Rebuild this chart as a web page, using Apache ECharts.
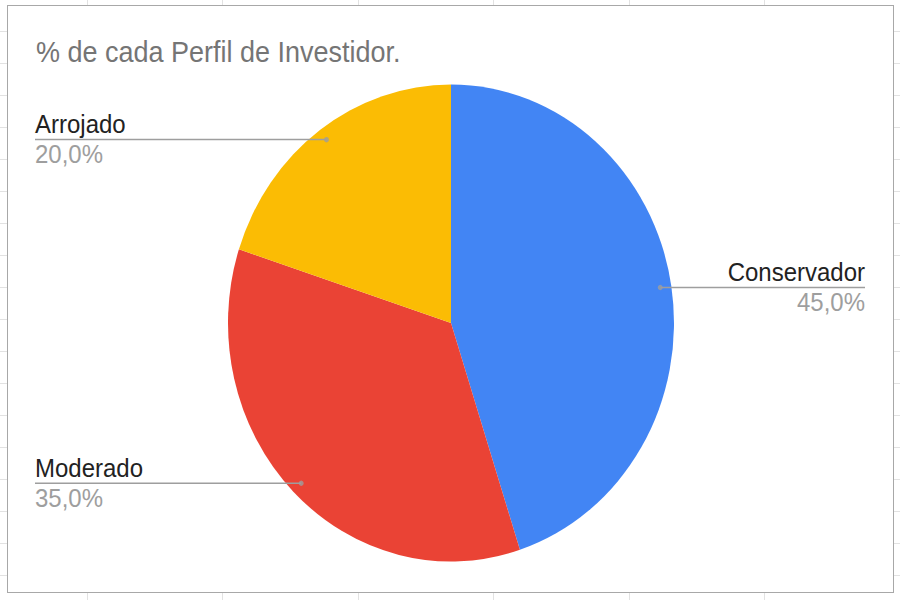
<!DOCTYPE html>
<html>
<head>
<meta charset="utf-8">
<script src="https://cdn.jsdelivr.net/npm/echarts@6/dist/echarts.min.js"></script>
<style>
  html, body {
    margin: 0;
    width: 900px;
    height: 600px;
    overflow: hidden;
    background-color: #fff;
    background-image:
      repeating-linear-gradient(to right, transparent 0, transparent 87px, #e2e2e2 87px, #e2e2e2 88px, transparent 88px, transparent 135.5px),
      repeating-linear-gradient(to bottom, transparent 0, transparent 31px, #e2e2e2 31px, #e2e2e2 32px, transparent 32px, transparent 30px);
  }
  #frame {
    position: absolute;
    left: 7px;
    top: 5px;
    width: 885px;
    height: 586px;
    border: 1px solid #a8a8a8;
    background: #fff;
  }
  #chart {
    position: absolute;
    left: 0;
    top: 0;
    width: 900px;
    height: 561px;
    transform: scaleY(1.0695);
    transform-origin: 0 0;
  }
</style>
</head>
<body>
<div id="frame"></div>
<div id="chart"></div>
<script>
(function () {
  const title = '% de cada Perfil de Investidor.';
  const profiles = ['Conservador', 'Moderado', 'Arrojado'];
  const shares = [45, 35, 20];
  const colors = ['#4285f4', '#ea4335', '#fbbc04'];

  const font = "'Liberation Sans', Arial, sans-serif";
  const data = profiles.map((name, i) => ({ name, value: shares[i] }));

  // leader-line anchor dots: middle of each slice, a bit inside the rim
  const total = shares.reduce((a, b) => a + b, 0);
  let acc = 0;
  const dots = shares.map((v) => {
    const mid = acc + v / 2;
    acc += v;
    return [0.95, (mid / total) * 100];
  });

  const chartEl = document.getElementById('chart');
  const chart = echarts.init(chartEl, null, { renderer: 'svg' });

  function fmt(v) {
    return v.toFixed(1).replace('.', ',') + '%';
  }

  chart.setOption({
    animation: false,
    color: colors,
    title: {
      text: title,
      left: 31,
      top: 30,
      textStyle: {
        color: '#757575',
        fontFamily: font,
        fontSize: 27,
        fontWeight: 'normal',
      },
    },
    polar: { center: [451, 302], radius: 223 },
    angleAxis: {
      type: 'value',
      min: 0,
      max: 100,
      startAngle: 90,
      clockwise: true,
      show: false,
    },
    radiusAxis: { type: 'value', min: 0, max: 1, show: false },
    series: [
      {
        type: 'pie',
        center: [451, 302],
        radius: 223,
        startAngle: 90,
        silent: true,
        z: 1,
        label: { show: false },
        labelLine: { show: false },
        emphasis: { disabled: true },
        data,
      },
      {
        // transparent copy, only for the labels and their leader lines
        type: 'pie',
        center: [451, 302],
        radius: 212,
        startAngle: 90,
        silent: true,
        z: 5,
        itemStyle: { color: 'rgba(0,0,0,0)' },
        emphasis: { disabled: true },
        label: {
          show: true,
          alignTo: 'edge',
          edgeDistance: 35,
          padding: 0,
          formatter: (p) => `{n|${p.name}}\n{v|${fmt(p.value)}}`,
          rich: {
            n: { fontFamily: font, fontSize: 24, color: '#222222', lineHeight: 28 },
            v: { fontFamily: font, fontSize: 24, color: '#9e9e9e', lineHeight: 28 },
          },
        },
        labelLine: {
          show: true,
          length: 0,
          length2: 0,
          lineStyle: { color: '#9e9e9e', width: 1.5 },
        },
        labelLayout: function (params) {
          const isLeft = params.labelRect.x < 450;
          const points = params.labelLinePoints;
          points[2][0] = isLeft
            ? params.labelRect.x
            : params.labelRect.x + params.labelRect.width;
          points[2][1] = points[0][1];
          points[1][1] = points[0][1];
          return { labelLinePoints: points };
        },
        data,
      },
      {
        type: 'scatter',
        coordinateSystem: 'polar',
        silent: true,
        z: 6,
        symbolSize: 5,
        itemStyle: { color: '#9e9e9e' },
        data: dots,
      },
    ],
  });

  window.addEventListener('resize', () => chart.resize());
})();
</script>
</body>
</html>
